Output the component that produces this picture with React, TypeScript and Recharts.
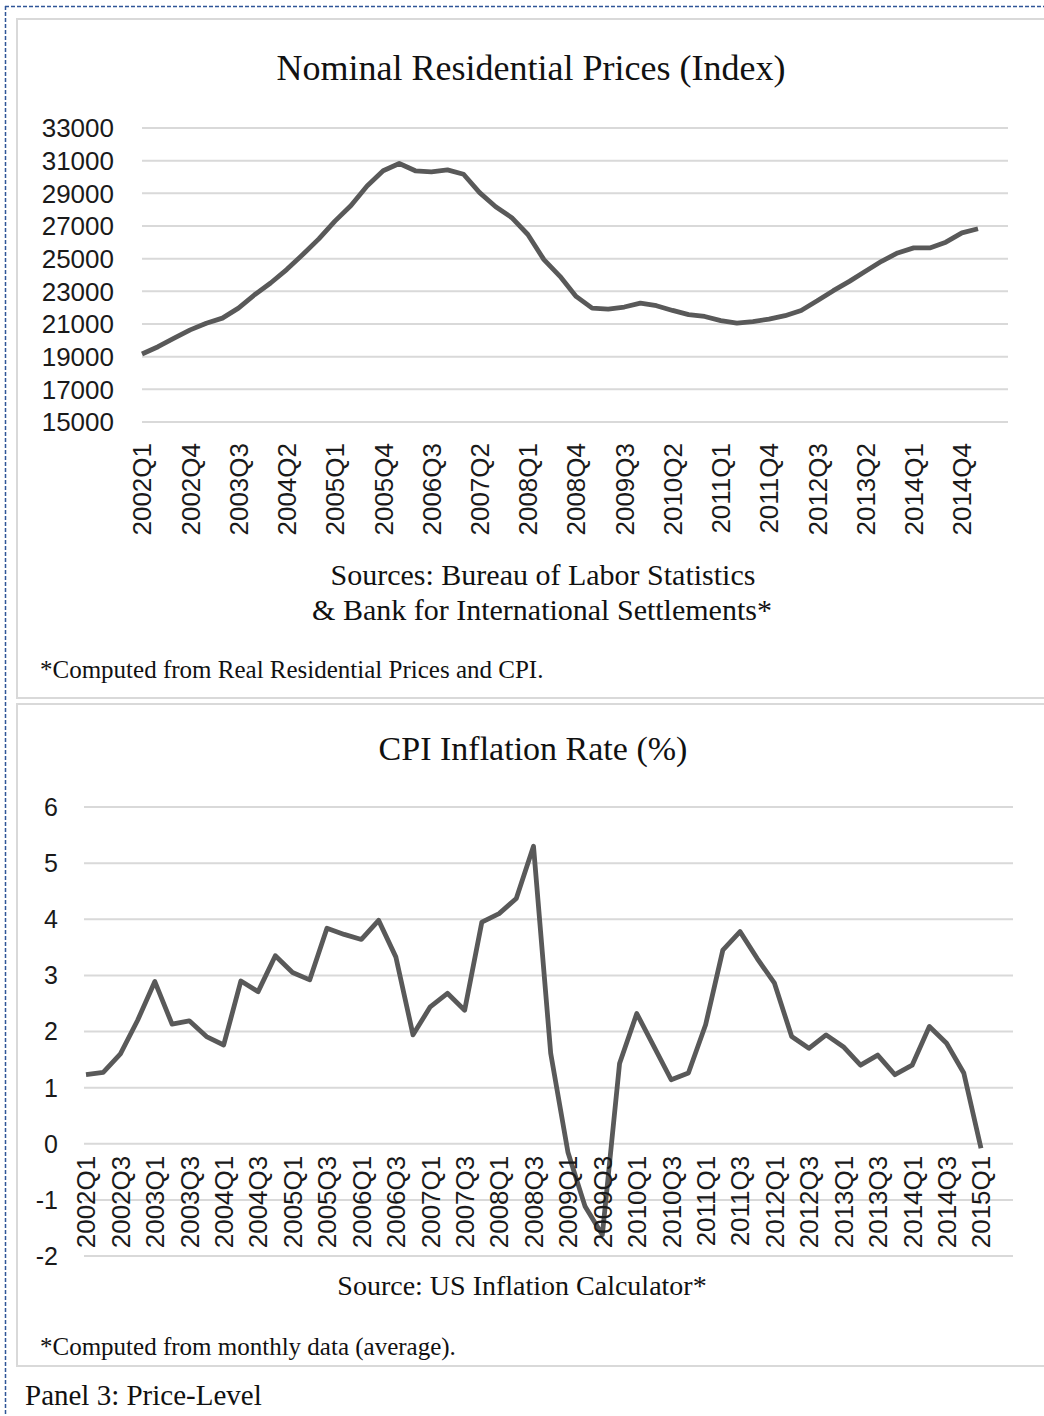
import React from 'react';
import { LineChart, Line, XAxis, YAxis, CartesianGrid } from 'recharts';

const quarters = [
  '2002Q1', '2002Q2', '2002Q3', '2002Q4', '2003Q1', '2003Q2', '2003Q3', '2003Q4',
  '2004Q1', '2004Q2', '2004Q3', '2004Q4', '2005Q1', '2005Q2', '2005Q3', '2005Q4',
  '2006Q1', '2006Q2', '2006Q3', '2006Q4', '2007Q1', '2007Q2', '2007Q3', '2007Q4',
  '2008Q1', '2008Q2', '2008Q3', '2008Q4', '2009Q1', '2009Q2', '2009Q3', '2009Q4',
  '2010Q1', '2010Q2', '2010Q3', '2010Q4', '2011Q1', '2011Q2', '2011Q3', '2011Q4',
  '2012Q1', '2012Q2', '2012Q3', '2012Q4', '2013Q1', '2013Q2', '2013Q3', '2013Q4',
  '2014Q1', '2014Q2', '2014Q3', '2014Q4', '2015Q1',
];

const nominalPrices = [
  19160, 19610, 20130, 20640, 21050, 21360, 21970, 22790, 23510, 24330,
  25250, 26210, 27300, 28260, 29450, 30380, 30830, 30380, 30310, 30440,
  30170, 29040, 28180, 27510, 26480, 24940, 23920, 22690, 21970, 21910,
  22040, 22280, 22120, 21830, 21570, 21460, 21210, 21050, 21150, 21300,
  21510, 21830, 22420, 23040, 23610, 24230, 24840, 25350, 25660, 25660,
  26010, 26580, 26830,
];

const cpiInflation = [
  1.23, 1.27, 1.6, 2.2, 2.89, 2.13, 2.19, 1.91, 1.76, 2.9,
  2.71, 3.35, 3.05, 2.92, 3.84, 3.73, 3.64, 3.98, 3.33, 1.94,
  2.44, 2.68, 2.38, 3.95, 4.1, 4.37, 5.3, 1.61, -0.15, -1.12,
  -1.62, 1.43, 2.32, 1.73, 1.14, 1.26, 2.12, 3.45, 3.78, 3.3,
  2.86, 1.91, 1.7, 1.94, 1.73, 1.4, 1.58, 1.23, 1.4, 2.09,
  1.79, 1.26, -0.08,
];

const priceTicks = [15000, 17000, 19000, 21000, 23000, 25000, 27000, 29000, 31000, 33000];
const cpiTicks = [-2, -1, 0, 1, 2, 3, 4, 5, 6];

const priceData = quarters.map((q, i) => ({ q, v: nominalPrices[i] }));
const cpiData = quarters.map((q, i) => ({ q, v: cpiInflation[i] }));

const SANS = '"Liberation Sans", Arial, sans-serif';
const SERIF = '"Liberation Serif", "Times New Roman", serif';
const LINE = '#595959';
const GRID = '#d9d9d9';

// layout of the two chart boxes (page coordinates)
const PRICE_TOP = 100;
const PRICE_MT = 28;
const PRICE_PLOT_H = 294;
const CPI_TOP = 780;
const CPI_MT = 27;
const CPI_PLOT_H = 449;

const PriceTick = (props: any) => {
  const { x, payload } = props;
  return (
    <g transform={`translate(${x},${PRICE_MT + PRICE_PLOT_H + 21}) rotate(-90)`}>
      <text textAnchor="end" dy="0.36em" fontSize={26} fontFamily={SANS} fill="#1a1a1a">
        {payload.value}
      </text>
    </g>
  );
};

// Excel draws the category labels next to the zero line, not at the bottom
const CpiTick = (props: any) => {
  const { x, payload } = props;
  const zeroY = CPI_MT + CPI_PLOT_H * (6 / 8);
  return (
    <g transform={`translate(${x},${zeroY + 12}) rotate(-90)`}>
      <text textAnchor="end" dy="0.36em" fontSize={26} fontFamily={SANS} fill="#1a1a1a">
        {payload.value}
      </text>
    </g>
  );
};

export default function App() {
  return (
    <div
      style={{
        position: 'absolute',
        left: 0,
        top: 0,
        width: 1044,
        height: 1416,
        overflow: 'hidden',
        background: '#fff',
      }}
    >
      {/* panel frames */}
      <div style={{ position: 'absolute', left: 16, top: 18, width: 1100, height: 677, border: `2px solid ${GRID}` }} />
      <div style={{ position: 'absolute', left: 16, top: 703, width: 1100, height: 660, border: `2px solid ${GRID}` }} />

      <div style={{ position: 'absolute', left: 0, top: PRICE_TOP }}>
        <LineChart
          width={1044}
          height={PRICE_MT + PRICE_PLOT_H + 130}
          data={priceData}
          margin={{ top: PRICE_MT, right: 36, bottom: 0, left: 0 }}
        >
          <CartesianGrid vertical={false} stroke={GRID} strokeWidth={2} />
          <XAxis
            dataKey="q"
            interval={2}
            axisLine={false}
            tickLine={false}
            height={130}
            padding={{ left: 0, right: 30 }}
            tick={<PriceTick />}
          />
          <YAxis
            width={142}
            domain={[15000, 33000]}
            ticks={priceTicks}
            interval={0}
            axisLine={false}
            tickLine={false}
            tickSize={0}
            tickMargin={28}
            tick={{ fontSize: 26, fontFamily: SANS, fill: '#1a1a1a' }}
          />
          <Line
            type="linear"
            dataKey="v"
            stroke={LINE}
            strokeWidth={4.8}
            strokeLinejoin="round"
            dot={false}
            isAnimationActive={false}
          />
        </LineChart>
      </div>

      <div style={{ position: 'absolute', left: 0, top: CPI_TOP }}>
        <LineChart
          width={1044}
          height={CPI_MT + CPI_PLOT_H + 24}
          data={cpiData}
          margin={{ top: CPI_MT, right: 31, bottom: 0, left: 0 }}
        >
          <CartesianGrid vertical={false} stroke={GRID} strokeWidth={2} />
          <XAxis
            dataKey="q"
            interval={1}
            axisLine={false}
            tickLine={false}
            height={24}
            padding={{ left: 2, right: 32 }}
            tick={<CpiTick />}
          />
          <YAxis
            width={84}
            domain={[-2, 6]}
            ticks={cpiTicks}
            interval={0}
            axisLine={false}
            tickLine={false}
            tickSize={0}
            tickMargin={26}
            tick={{ fontSize: 25, fontFamily: SANS, fill: '#1a1a1a' }}
          />
          <Line
            type="linear"
            dataKey="v"
            stroke={LINE}
            strokeWidth={4.8}
            strokeLinejoin="round"
            dot={false}
            isAnimationActive={false}
          />
        </LineChart>
      </div>

      <svg
        width={1044}
        height={1416}
        style={{ position: 'absolute', left: 0, top: 0, pointerEvents: 'none' }}
      >
        <line x1={5.5} y1={6} x2={5.5} y2={1416} stroke="#2f5597" strokeWidth={1.5} strokeDasharray="4 2" />
        <line x1={5} y1={6.5} x2={1044} y2={6.5} stroke="#2f5597" strokeWidth={1.5} strokeDasharray="4 2" />

        <g fontFamily={SERIF} fill="#111">
          <text x={531} y={80} fontSize={36} textAnchor="middle">Nominal Residential Prices (Index)</text>
          <text x={543} y={585} fontSize={30} textAnchor="middle">Sources: Bureau of Labor Statistics</text>
          <text x={542} y={620} fontSize={30} textAnchor="middle">&amp; Bank for International Settlements*</text>
          <text x={40} y={678} fontSize={25}>*Computed from Real Residential Prices and CPI.</text>

          <text x={533} y={760} fontSize={34} textAnchor="middle">CPI Inflation Rate (%)</text>
          <text x={522} y={1295} fontSize={28} textAnchor="middle">Source: US Inflation Calculator*</text>
          <text x={40} y={1355} fontSize={25}>*Computed from monthly data (average).</text>

          <text x={25} y={1405} fontSize={29}>Panel 3: Price-Level</text>
        </g>
      </svg>
    </div>
  );
}
